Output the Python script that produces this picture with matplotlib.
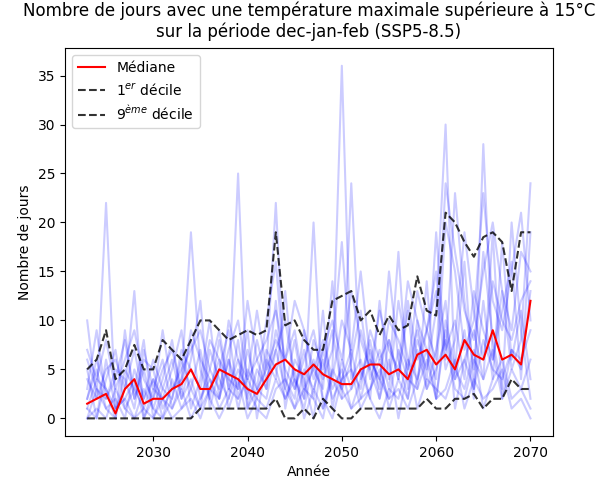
import numpy as np
import matplotlib.pyplot as plt

years = np.arange(2023, 2071)

mediane = [1.5, 2, 2.5, 0.5, 3, 4, 1.5, 2, 2, 3, 3.5, 5, 3, 3, 5, 4.5, 4, 3, 2.5, 4,
           5.5, 6, 5, 4.5, 5.5, 4.5, 4, 3.5, 3.5, 5, 5.5, 5.5, 4.5, 5, 4, 6.5, 7, 5.5,
           6.5, 5, 8, 6.5, 6, 9, 6, 6.5, 5.5, 12]
decile9 = [5, 6, 9, 4, 5, 7.5, 5, 5, 8, 7, 6, 8, 10, 10, 9, 8, 8.5, 9, 8.5, 9,
           19, 9.5, 10, 8, 7, 7, 12, 12.5, 13, 10, 11, 8.5, 10.5, 9, 9.5, 14.5, 11, 10.5,
           21, 20, 18, 16.5, 18.5, 19, 18, 13, 19, 19]
decile1 = [0, 0, 0, 0, 0, 0, 0, 0, 0, 0, 0, 0, 1, 1, 1, 1, 1, 1, 1, 1,
           2, 0, 0, 1, 0, 2, 1, 0, 0, 1, 1, 1, 1, 1, 1, 1, 2, 1, 1, 2,
           2, 2.5, 1, 2, 2, 4, 3, 3]

# quelques membres de l'ensemble (lus approximativement)
membres = [
    [10, 2, 22, 1, 3, 13, 0, 2, 9, 3, 4, 19, 5, 2, 8, 3, 25, 1, 3, 5, 22, 3, 8, 2, 20, 1, 5, 36, 4, 6, 2, 12, 4, 17, 3, 8, 5, 11, 30, 4, 9, 2, 28, 6, 13, 5, 8, 24],
    [2, 6, 3, 0, 9, 2, 5, 1, 4, 8, 2, 6, 12, 1, 5, 9, 2, 7, 3, 10, 16, 4, 2, 9, 5, 3, 14, 2, 24, 4, 7, 3, 15, 6, 2, 10, 4, 19, 6, 23, 12, 5, 17, 8, 3, 20, 9, 2],
    [5, 0, 4, 7, 1, 3, 8, 0, 2, 5, 9, 1, 4, 10, 2, 6, 3, 9, 0, 6, 4, 13, 3, 7, 2, 11, 1, 6, 3, 9, 5, 2, 8, 4, 11, 3, 14, 2, 10, 5, 16, 3, 12, 4, 18, 6, 11, 4],
    [0, 3, 1, 2, 0, 5, 2, 4, 0, 2, 6, 3, 1, 7, 4, 2, 8, 1, 5, 3, 12, 1, 6, 4, 0, 7, 3, 5, 1, 4, 8, 2, 6, 0, 5, 9, 3, 7, 12, 1, 6, 9, 4, 19, 2, 7, 5, 13],
    [3, 9, 2, 5, 4, 1, 7, 3, 6, 1, 4, 8, 2, 5, 9, 3, 6, 2, 8, 4, 7, 10, 4, 2, 8, 5, 9, 3, 6, 11, 4, 7, 3, 12, 6, 4, 9, 15, 7, 10, 4, 13, 9, 6, 11, 16, 4, 19],
    [1, 0, 6, 1, 2, 0, 3, 1, 0, 4, 1, 2, 0, 3, 6, 1, 4, 0, 2, 7, 5, 2, 4, 1, 6, 2, 0, 4, 7, 2, 3, 6, 1, 4, 2, 7, 3, 5, 8, 3, 2, 6, 4, 7, 2, 5, 3, 6],
    [7, 4, 8, 3, 6, 9, 4, 2, 5, 7, 3, 9, 6, 4, 2, 10, 6, 4, 11, 5, 8, 6, 12, 9, 4, 7, 10, 6, 13, 8, 5, 11, 7, 5, 14, 10, 7, 4, 20, 15, 7, 10, 23, 12, 9, 15, 21, 10],
    [0, 1, 0, 3, 1, 0, 1, 4, 2, 0, 1, 3, 7, 2, 0, 2, 5, 3, 1, 0, 3, 4, 1, 3, 2, 0, 5, 3, 1, 2, 6, 4, 2, 3, 1, 4, 7, 2, 3, 6, 1, 4, 2, 3, 5, 1, 2, 0],
    [4, 2, 5, 6, 3, 7, 2, 6, 3, 2, 7, 5, 3, 8, 6, 4, 3, 12, 6, 3, 9, 5, 3, 6, 9, 4, 7, 18, 5, 3, 9, 6, 8, 4, 12, 6, 9, 13, 5, 8, 19, 11, 6, 14, 10, 8, 12, 14],
    [2, 5, 1, 0, 5, 3, 1, 0, 3, 6, 2, 4, 1, 3, 2, 6, 1, 5, 3, 2, 7, 3, 1, 5, 3, 6, 2, 4, 5, 1, 3, 5, 2, 7, 4, 3, 6, 2, 9, 4, 6, 3, 8, 5, 4, 7, 6, 9],
    [6, 3, 2, 4, 8, 2, 6, 5, 1, 3, 5, 7, 9, 5, 3, 7, 10, 4, 6, 8, 11, 6, 9, 3, 5, 8, 4, 10, 7, 15, 6, 4, 10, 8, 5, 13, 9, 6, 24, 17, 11, 8, 15, 20, 13, 9, 17, 15],
    [1, 4, 3, 1, 2, 4, 0, 3, 2, 1, 3, 0, 2, 4, 1, 3, 2, 4, 2, 1, 4, 2, 5, 0, 3, 1, 4, 2, 3, 5, 2, 0, 3, 2, 6, 1, 4, 3, 2, 5, 3, 7, 1, 4, 6, 2, 3, 1],
]

fig, ax = plt.subplots(figsize=(6.02, 4.91), dpi=100)
fig.subplots_adjust(left=0.108, right=0.918, top=0.902, bottom=0.112)

for m in membres:
    ax.plot(years, m, color="blue", alpha=0.2)

ax.plot(years, mediane, color="red", label="Médiane")
ax.plot(years, decile1, color="black", linestyle="--", alpha=0.8, label="1$^{er}$ décile")
ax.plot(years, decile9, color="black", linestyle="--", alpha=0.8, label="9$^{ème}$ décile")

ax.set_xlabel("Année")
ax.set_ylabel("Nombre de jours")
ax.set_title("Nombre de jours avec une température maximale supérieure à 15°C\n"
             "sur la période dec-jan-feb (SSP5-8.5)", pad=8)
ax.set_xticks([2030, 2040, 2050, 2060, 2070])
ax.legend(loc="upper left")

fig.savefig("out.png")
